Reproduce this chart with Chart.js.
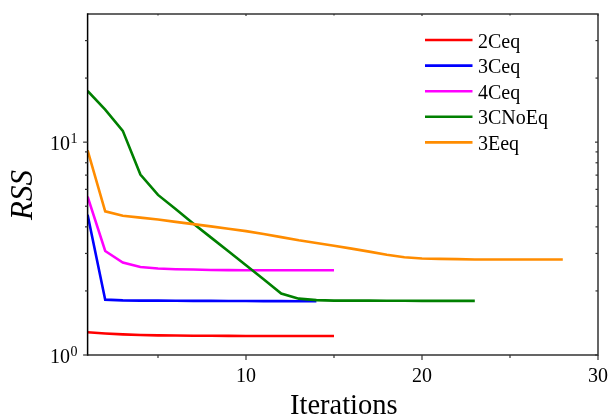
<!DOCTYPE html>
<html>
<head>
<meta charset="utf-8">
<script src="https://cdn.jsdelivr.net/npm/chart.js@4/dist/chart.umd.min.js"></script>
<style>
html,body{margin:0;padding:0;background:#fff;}
#wrap{width:611px;height:418px;}
</style>
</head>
<body>
<div id="wrap"><canvas id="c" width="611" height="418"></canvas></div>
<script>
// ---- data ----
const seriesNames = ["2Ceq", "3Ceq", "4Ceq", "3CNoEq", "3Eeq"];
const seriesColors = ["#ff0000", "#0000ff", "#ff00ff", "#008000", "#ff8c00"];
const iter2Ceq = [1,2,3,4,5,6,7,8,9,10,11,12,13,14,15];
const rss2Ceq = [1.278,1.262,1.25,1.242,1.237,1.234,1.232,1.231,1.23,1.229,1.229,1.228,1.228,1.228,1.228];
const iter3Ceq = [1,2,3,4,5,6,7,8,9,10,11,12,13,14];
const rss3Ceq = [4.56,1.82,1.805,1.80,1.80,1.798,1.796,1.795,1.794,1.793,1.792,1.791,1.79,1.79];
const iter4Ceq = [1,2,3,4,5,6,7,8,9,10,11,12,13,14,15];
const rss4Ceq = [5.55,3.08,2.72,2.59,2.55,2.53,2.52,2.51,2.505,2.50,2.50,2.50,2.50,2.50,2.50];
const iter3CNoEq = [1,2,3,4,5,6,7,8,9,10,11,12,13,14,15,16,17,18,19,20,21,22,23];
const rss3CNoEq = [17.4,14.2,11.3,7.04,5.65,4.85,4.15,3.57,3.07,2.64,2.27,1.945,1.84,1.81,1.80,1.80,1.80,1.798,1.797,1.796,1.796,1.795,1.795];
const iter3Eeq = [1,2,3,4,5,6,7,8,9,10,11,12,13,14,15,16,17,18,19,20,21,22,23,24,25,26,27,28];
const rss3Eeq = [9.15,4.73,4.51,4.42,4.33,4.22,4.12,4.02,3.92,3.82,3.70,3.58,3.46,3.36,3.26,3.16,3.06,2.96,2.88,2.84,2.83,2.82,2.81,2.81,2.81,2.81,2.81,2.81];
const xMajorTicks = [10, 20, 30];
const xMinorTicks = [5, 15, 25];
const yMajorTicks = [1, 10];
const yMajorLabels = [["10","0"],["10","1"]];
const yMinorTicks = [2,3,4,5,6,7,8,9,20,30];
const xTitle = "Iterations";
const yTitle = "RSS";

const allIters = [iter2Ceq, iter3Ceq, iter4Ceq, iter3CNoEq, iter3Eeq];
const allRss = [rss2Ceq, rss3Ceq, rss4Ceq, rss3CNoEq, rss3Eeq];

const datasets = seriesNames.map((name, i) => ({
  label: name,
  data: allIters[i].map((x, k) => ({x: x, y: allRss[i][k]})),
  borderColor: seriesColors[i],
  backgroundColor: seriesColors[i],
  borderWidth: 2.6,
  pointRadius: 0,
  tension: 0,
  fill: false,
  order: seriesNames.length - 1 - i
}));

const SERIF = "'Liberation Serif', 'Times New Roman', serif";

const decorPlugin = {
  id: 'decor',
  afterDraw(chart) {
    const ctx = chart.ctx;
    const a = chart.chartArea;
    const xs = chart.scales.x, ys = chart.scales.y;
    ctx.save();
    // frame
    ctx.lineWidth = 1.5;
    ctx.strokeStyle = '#333';
    ctx.beginPath();
    ctx.moveTo(a.left, a.top); ctx.lineTo(a.right, a.top); ctx.lineTo(a.right, a.bottom); ctx.lineTo(a.left, a.bottom);
    ctx.stroke();
    ctx.strokeStyle = '#000';
    ctx.beginPath();
    ctx.moveTo(a.left, a.top - 0.75); ctx.lineTo(a.left, a.bottom + 0.75);
    ctx.stroke();
    // ticks
    ctx.strokeStyle = '#333';
    ctx.lineWidth = 1.2;
    function xt(v, len, topLen) {
      const p = xs.getPixelForValue(v);
      ctx.beginPath(); ctx.moveTo(p, a.bottom); ctx.lineTo(p, a.bottom + len); ctx.stroke();
      ctx.beginPath(); ctx.moveTo(p, a.top); ctx.lineTo(p, a.top + topLen); ctx.stroke();
    }
    function yt(v, len, rLen) {
      const p = ys.getPixelForValue(v);
      ctx.beginPath(); ctx.moveTo(a.left, p); ctx.lineTo(a.left - len, p); ctx.stroke();
      ctx.beginPath(); ctx.moveTo(a.right, p); ctx.lineTo(a.right - rLen, p); ctx.stroke();
    }
    xMajorTicks.forEach(v => xt(v, 5, 2));
    xMinorTicks.forEach(v => xt(v, 3, 1.5));
    yMajorTicks.forEach(v => yt(v, 4.5, 3));
    yMinorTicks.forEach(v => yt(v, 2.6, 2.5));
    // tick labels
    ctx.fillStyle = '#000';
    ctx.font = '20px ' + SERIF;
    ctx.textAlign = 'center';
    ctx.textBaseline = 'alphabetic';
    xMajorTicks.forEach(v => {
      ctx.fillText(String(v), xs.getPixelForValue(v), a.bottom + 27);
    });
    yMajorTicks.forEach((v, i) => {
      const p = ys.getPixelForValue(v);
      ctx.font = '20px ' + SERIF;
      ctx.textAlign = 'right';
      ctx.fillText(yMajorLabels[i][0], 70, p + 7.5);
      ctx.font = '14px ' + SERIF;
      ctx.textAlign = 'left';
      ctx.fillText(yMajorLabels[i][1], 70.5, p + 0.5);
    });
    // titles
    ctx.font = '28.5px ' + SERIF;
    ctx.textAlign = 'center';
    ctx.fillText(xTitle, (a.left + a.right) / 2 + 1, 413.5);
    ctx.save();
    ctx.translate(32, 195);
    ctx.rotate(-Math.PI / 2);
    ctx.font = 'italic 31px ' + SERIF;
    ctx.fillText(yTitle, 0, 0);
    ctx.restore();
    // legend
    ctx.font = '20px ' + SERIF;
    ctx.textAlign = 'left';
    seriesNames.forEach((name, i) => {
      const y = 40 + i * 25.6;
      ctx.strokeStyle = seriesColors[i];
      ctx.lineWidth = 2.6;
      ctx.beginPath(); ctx.moveTo(425, y); ctx.lineTo(472.5, y); ctx.stroke();
      ctx.fillStyle = '#000';
      ctx.fillText(name, 478, y + 7.5);
    });
    ctx.restore();
  }
};

new Chart(document.getElementById('c'), {
  type: 'line',
  data: { datasets: datasets },
  options: {
    responsive: false,
    animation: false,
    devicePixelRatio: 1,
    layout: { padding: { left: 87.6, right: 13, top: 14, bottom: 63 } },
    plugins: { legend: { display: false }, tooltip: { enabled: false } },
    scales: {
      x: { type: 'linear', min: 1, max: 30, display: false },
      y: { type: 'logarithmic', min: 1, max: 40, display: false }
    }
  },
  plugins: [decorPlugin]
});
</script>
</body>
</html>
